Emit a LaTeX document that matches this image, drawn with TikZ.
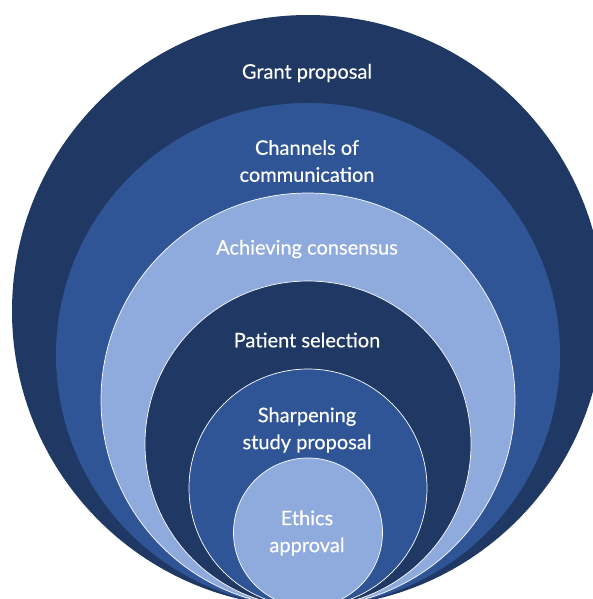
\documentclass[tikz,border=0pt]{standalone}
\usepackage{fontspec}
\setmainfont{Lato}[FakeBold=0.4]
\definecolor{bluedark}{HTML}{203864}
\definecolor{bluemid}{HTML}{2F5597}
\definecolor{bluelight}{HTML}{8FAADC}
\begin{document}
\begin{tikzpicture}[x=1pt,y=-1pt,
  ring/.style={circle, inner sep=0pt, outer sep=0pt, minimum size=#1},
  rim/.style={draw=white, line width=0.7pt},
  label/.style={text=white, align=center, inner sep=0pt,
    font=\fontsize{20}{27}\selectfont}]
\useasboundingbox (0,0) rectangle (593,599);
\clip (0,0) rectangle (593,599);
% nested circles, all touching at the bottom (y = 607)
\node[ring=592pt, fill=bluedark]        (c1) at (308,311)   {};
\node[ring=504pt, fill=bluemid]         (c2) at (308,355)   {};
\node[ring=414pt, fill=bluelight, rim]  (c3) at (308,400)   {};
\node[ring=326pt, fill=bluedark, rim]   (c4) at (308,444)   {};
\node[ring=238pt, fill=bluemid, rim]    (c5) at (308,488)   {};
\node[ring=149pt, fill=bluelight, rim]  (c6) at (308,532.5) {};
% labels
\node[label] (t1) at (307,73)  {Grant proposal};
\node[label] (t2) at (307,161) {Channels of\\communication};
\node[label] (t3) at (307,249) {Achieving consensus};
\node[label] (t4) at (307,340) {Patient selection};
\node[label] (t5) at (307,430) {Sharpening\\study proposal};
\node[label] (t6) at (307,533) {Ethics\\approval};
\end{tikzpicture}
\end{document}
